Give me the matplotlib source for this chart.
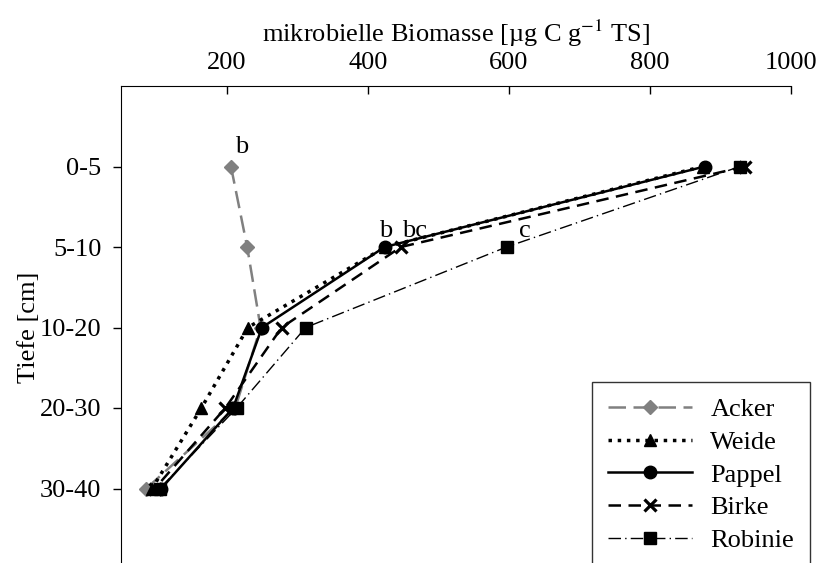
import matplotlib.pyplot as plt

plt.rcParams['font.family'] = ['Liberation Serif', 'DejaVu Serif']
plt.rcParams['mathtext.fontset'] = 'stix'

# Data
depths = ["0-5", "5-10", "10-20", "20-30", "30-40"]
acker = [206, 229, 248, 212, 86]
weide = [875, 425, 230, 164, 94]
pappel = [878, 424, 250, 209, 107]
birke = [935, 447, 278, 198, 98]
robinie = [928, 597, 312, 214, 105]

pos = list(range(len(depths)))

fig = plt.figure(figsize=(8.18, 5.63), dpi=100)
ax = fig.add_axes([121 / 818, (563 - 569) / 563, (790.7 - 121) / 818, (569 - 86) / 563])

ax.plot(acker, pos, color='#808080', linestyle=(0, (7, 3)), linewidth=1.8,
        marker='D', markersize=7.5, label="Acker")
ax.plot(weide, pos, color='black', linestyle=':', linewidth=2.5,
        marker='^', markersize=8.5, label="Weide")
ax.plot(pappel, pos, color='black', linestyle='-', linewidth=1.8,
        marker='o', markersize=9, label="Pappel")
ax.plot(birke, pos, color='black', linestyle=(0, (5, 3)), linewidth=1.8,
        marker='x', markersize=8.5, markeredgewidth=2.3, label="Birke")
ax.plot(robinie, pos, color='black', linestyle=(0, (9, 3, 1, 3)), linewidth=1.0,
        marker='s', markersize=8, label="Robinie")

# significance letters
fs = 19
ax.text(acker[0] + 6, pos[0] - 0.1, "b", fontsize=fs, ha='left', va='bottom')
ax.text(pappel[1] + 2, pos[1] - 0.06, "b", fontsize=fs, ha='center', va='bottom')
ax.text(birke[1] + 20, pos[1] - 0.06, "bc", fontsize=fs, ha='center', va='bottom')
ax.text(robinie[1] + 18, pos[1] - 0.06, "c", fontsize=fs, ha='left', va='bottom')

ax.set_xlim(50, 1000)
ax.set_ylim(5, -1)
ax.set_xticks([200, 400, 600, 800, 1000])
ax.set_yticks(pos)
ax.set_yticklabels(depths)
ax.xaxis.tick_top()
ax.xaxis.set_label_position('top')
ax.tick_params(axis='both', labelsize=fs, length=6, width=1)
ax.tick_params(axis='x', direction='in', pad=9)
ax.tick_params(axis='y', direction='out', pad=8)
ax.spines['right'].set_visible(False)
ax.spines['bottom'].set_visible(False)
ax.set_xlabel(r"mikrobielle Biomasse [µg C g$^{-1}$ TS]", fontsize=fs, labelpad=7)
ax.set_ylabel("Tiefe [cm]", fontsize=fs, labelpad=0)

leg = ax.legend(loc='upper right', bbox_to_anchor=(810 / 818, 1 - 382 / 563), bbox_transform=fig.transFigure,
                borderaxespad=0, fontsize=fs, frameon=True, fancybox=False, edgecolor='black',
                handlelength=3.2, labelspacing=0.35, borderpad=0.6, handletextpad=0.7)
leg.get_frame().set_linewidth(1.0)

plt.savefig("out.png", dpi=100)
